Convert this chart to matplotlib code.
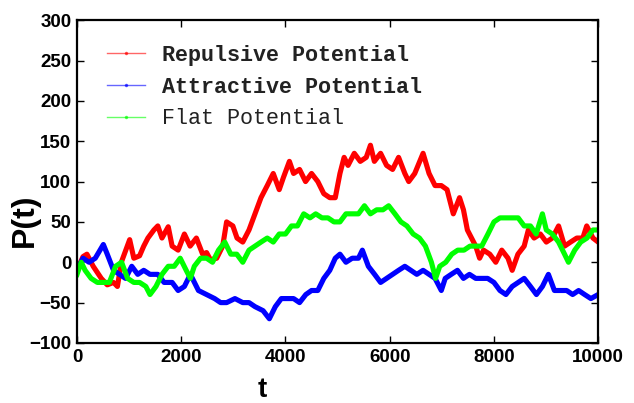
import matplotlib.pyplot as plt
from matplotlib.lines import Line2D
import numpy as np

# values (t, P)
t_rep = [0, 115, 190, 310, 465, 580, 700, 775, 850, 1010, 1090, 1200, 1280, 1360, 1475,
         1550, 1630, 1750, 1825, 1940, 2060, 2170, 2290, 2410, 2485, 2560, 2680, 2795,
         2870, 2990, 3070, 3180, 3300, 3415, 3530, 3650, 3765, 3880, 3960, 4075, 4155,
         4270, 4385, 4500, 4620, 4735, 4850, 4955, 5045, 5125, 5200, 5320, 5435, 5550,
         5630, 5705, 5825, 5940, 6055, 6170, 6290, 6365, 6480, 6640, 6755, 6870, 6990,
         7100, 7220, 7340, 7415, 7490, 7570, 7650, 7725, 7800, 7920, 8035, 8150, 8270,
         8350, 8460, 8580, 8660, 8770, 8890, 9005, 9120, 9240, 9355, 9470, 9590, 9705,
         9780, 9900, 10000]
p_rep = [-10, 7, 10, -5, -20, -28, -25, -30, 0, 28, 5, 8, 20, 30, 40,
         45, 30, 44, 20, 15, 35, 20, 30, 10, 12, 3, 5, 20,
         50, 45, 30, 25, 40, 60, 80, 95, 110, 90, 105, 125, 110,
         115, 100, 110, 100, 85, 80, 80, 110, 130, 120, 135, 125, 130,
         145, 125, 135, 120, 115, 130, 110, 100, 110, 135, 110, 95, 95,
         90, 60, 80, 65, 40, 30, 20, 5, 15, 10, 0, 15, 5,
         -10, 10, 20, 40, 30, 35, 25, 30, 45, 20, 25, 30, 30,
         45, 30, 25]

t_att = [0, 115, 230, 350, 505, 580, 700, 815, 930, 1050, 1165, 1280, 1400, 1550, 1670,
         1825, 1940, 2060, 2175, 2330, 2485, 2640, 2755, 2870, 3030, 3180, 3300, 3415,
         3570, 3690, 3805, 3920, 4040, 4155, 4270, 4390, 4500, 4620, 4735, 4850, 4955,
         5045, 5160, 5280, 5400, 5475, 5590, 5710, 5825, 5940, 6055, 6170, 6290, 6405,
         6520, 6640, 6755, 6870, 6990, 7065, 7180, 7300, 7415, 7530, 7650, 7765, 7880,
         8000, 8115, 8230, 8350, 8465, 8580, 8700, 8815, 8930, 9045, 9160, 9275, 9395,
         9510, 9625, 9740, 9860, 10000]
p_att = [-10, 5, 0, 5, 22, 10, -10, -15, -20, -5, -15, -10, -15, -15, -25,
         -25, -35, -30, -15, -35, -40, -45, -50, -50, -45, -50, -50, -55,
         -60, -70, -55, -45, -45, -45, -50, -40, -35, -35, -20, -10, 5,
         10, 0, 5, 5, 15, -5, -15, -25, -20, -15, -10, -5, -10,
         -15, -10, -15, -20, -35, -20, -15, -10, -20, -15, -20, -20, -20,
         -25, -35, -40, -30, -25, -20, -30, -40, -30, -15, -35, -35, -35,
         -40, -35, -40, -45, -40]

t_flat = [0, 80, 155, 270, 390, 505, 620, 740, 855, 970, 1090, 1200, 1320, 1400, 1515,
          1630, 1750, 1865, 1980, 2095, 2175, 2250, 2370, 2485, 2600, 2715, 2835, 2950,
          3065, 3180, 3300, 3415, 3530, 3650, 3765, 3880, 4000, 4115, 4230, 4350, 4470,
          4580, 4700, 4815, 4930, 5045, 5160, 5280, 5400, 5515, 5630, 5750, 5870, 5980,
          6100, 6215, 6330, 6450, 6570, 6685, 6800, 6880, 6960, 7075, 7190, 7305, 7425,
          7540, 7650, 7765, 7885, 8000, 8115, 8230, 8350, 8465, 8580, 8700, 8810, 8930,
          9005, 9120, 9240, 9355, 9430, 9550, 9665, 9785, 9900, 10000]
p_flat = [-15, 0, -10, -20, -25, -25, -25, -5, 0, -20, -25, -25, -30, -40, -30,
          -15, -5, -5, 5, -10, -20, -5, 5, 5, 0, 15, 25, 10,
          10, 0, 15, 20, 25, 30, 25, 35, 35, 45, 45, 60, 55,
          60, 55, 55, 50, 50, 60, 60, 60, 70, 60, 65, 65, 70,
          60, 50, 45, 35, 30, 20, 0, -20, -5, 0, 10, 15, 15,
          20, 20, 20, 35, 50, 55, 55, 55, 55, 45, 45, 35, 60,
          40, 35, 25, 10, 0, 15, 25, 30, 40, 40]

labels = ['Repulsive Potential', 'Attractive Potential', 'Flat Potential']
colors = ['#ff0000', '#0000ff', '#00ff00']

fig = plt.figure(figsize=(6.34, 4.03), dpi=100)
ax = fig.add_axes([0.1215, 0.149, 0.822, 0.801])

ax.plot(t_rep, p_rep, color=colors[0], lw=3.7)
ax.plot(t_att, p_att, color=colors[1], lw=3.7)
ax.plot(t_flat, p_flat, color=colors[2], lw=3.7)

ax.set_xlim(0, 10000)
ax.set_ylim(-100, 300)
ax.set_xticks(np.arange(0, 10001, 2000))
ax.set_yticks(np.arange(-100, 301, 50))
ax.tick_params(direction='in', length=5, width=1, top=True, right=True,
               labelsize=13.5, pad=4)
for lab in ax.get_xticklabels() + ax.get_yticklabels():
    lab.set_fontweight('bold')
    lab.set_family('Liberation Sans')
for sp in ax.spines.values():
    sp.set_linewidth(1.6)

ax.set_xlabel('t', fontsize=20, fontweight='bold', family='Liberation Sans')
ax.set_ylabel('P(t)', fontsize=23, fontweight='bold', family='Liberation Sans')
ax.xaxis.set_label_coords(0.355, -0.105)
ax.yaxis.set_label_coords(-0.072, 0.38)

handles = [Line2D([0], [0], color=c, lw=1, alpha=0.6, marker='.', ms=3) for c in colors]
leg = ax.legend(handles, labels, loc='upper left', bbox_to_anchor=(0.02, 0.985),
                frameon=False, handlelength=1.75, handletextpad=0.75, labelspacing=0.5,
                prop={'family': 'Liberation Mono', 'size': 15.7, 'weight': 'bold'})
for txt in leg.get_texts():
    txt.set_color('#222222')
leg.get_texts()[2].set_fontweight('normal')

plt.savefig('out.png', dpi=100)
